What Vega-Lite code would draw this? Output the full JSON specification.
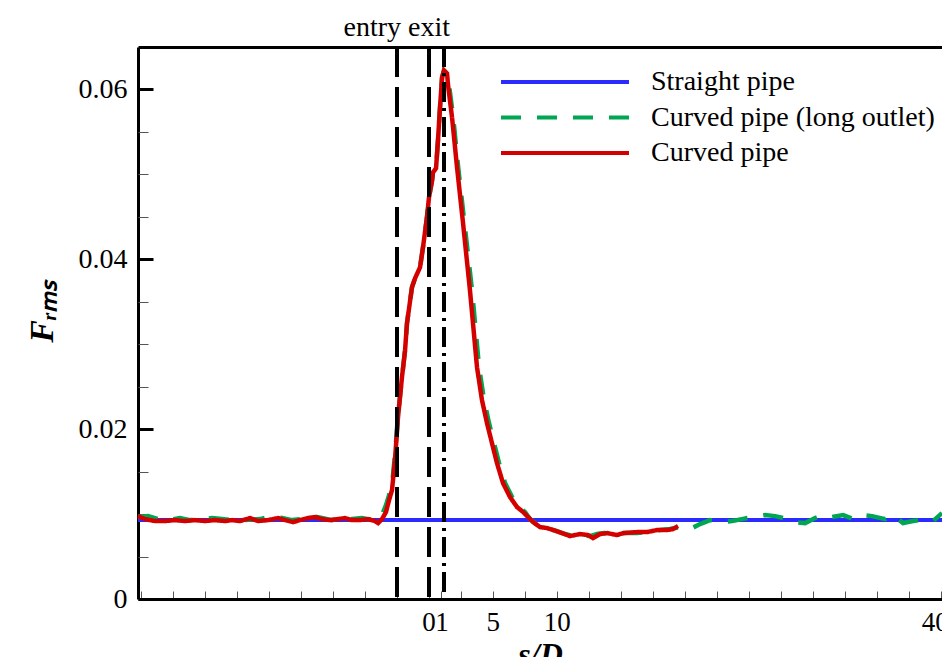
{
  "$schema": "https://vega.github.io/schema/vega-lite/v6.json",
  "width": 804,
  "height": 552,
  "autosize": {"type": "none"},
  "padding": {"left": 138, "top": 47, "right": 0, "bottom": 58},
  "background": "white",
  "config": {
    "view": {"stroke": null},
    "font": "Liberation Serif",
    "axis": {"grid": false, "labelColor": "black", "titleColor": "black", "labelFont": "Liberation Serif", "titleFont": "Liberation Serif", "domainColor": "black", "tickColor": "black"}
  },
  "data": {
    "values": [
      {"series": "Straight pipe", "s": -22.7, "F": 0.0093},
      {"series": "Straight pipe", "s": -10, "F": 0.0093},
      {"series": "Straight pipe", "s": 0, "F": 0.0093},
      {"series": "Straight pipe", "s": 10, "F": 0.0093},
      {"series": "Straight pipe", "s": 20, "F": 0.0093},
      {"series": "Straight pipe", "s": 30, "F": 0.0093},
      {"series": "Straight pipe", "s": 40.1, "F": 0.0093},

      {"series": "Curved pipe (long outlet)", "s": -22.7, "F": 0.00965},
      {"series": "Curved pipe (long outlet)", "s": -21.92, "F": 0.00976},
      {"series": "Curved pipe (long outlet)", "s": -21.14, "F": 0.00941},
      {"series": "Curved pipe (long outlet)", "s": -20.36, "F": 0.00929},
      {"series": "Curved pipe (long outlet)", "s": -19.42, "F": 0.00953},
      {"series": "Curved pipe (long outlet)", "s": -18.64, "F": 0.00929},
      {"series": "Curved pipe (long outlet)", "s": -17.86, "F": 0.00929},
      {"series": "Curved pipe (long outlet)", "s": -16.92, "F": 0.00953},
      {"series": "Curved pipe (long outlet)", "s": -16.14, "F": 0.00941},
      {"series": "Curved pipe (long outlet)", "s": -15.36, "F": 0.00929},
      {"series": "Curved pipe (long outlet)", "s": -14.34, "F": 0.00929},
      {"series": "Curved pipe (long outlet)", "s": -13.17, "F": 0.00941},
      {"series": "Curved pipe (long outlet)", "s": -12.23, "F": 0.00976},
      {"series": "Curved pipe (long outlet)", "s": -11.45, "F": 0.00953},
      {"series": "Curved pipe (long outlet)", "s": -10.67, "F": 0.00929},
      {"series": "Curved pipe (long outlet)", "s": -9.89, "F": 0.00941},
      {"series": "Curved pipe (long outlet)", "s": -9.11, "F": 0.00976},
      {"series": "Curved pipe (long outlet)", "s": -8.33, "F": 0.00953},
      {"series": "Curved pipe (long outlet)", "s": -7.55, "F": 0.00929},
      {"series": "Curved pipe (long outlet)", "s": -6.77, "F": 0.00953},
      {"series": "Curved pipe (long outlet)", "s": -5.98, "F": 0.00941},
      {"series": "Curved pipe (long outlet)", "s": -5.2, "F": 0.00953},
      {"series": "Curved pipe (long outlet)", "s": -4.42, "F": 0.00929},
      {"series": "Curved pipe (long outlet)", "s": -3.95, "F": 0.00941},
      {"series": "Curved pipe (long outlet)", "s": -3.64, "F": 0.00988},
      {"series": "Curved pipe (long outlet)", "s": -3.33, "F": 0.01106},
      {"series": "Curved pipe (long outlet)", "s": -3.09, "F": 0.01224},
      {"series": "Curved pipe (long outlet)", "s": -2.86, "F": 0.01341},
      {"series": "Curved pipe (long outlet)", "s": -2.63, "F": 0.01694},
      {"series": "Curved pipe (long outlet)", "s": -2.39, "F": 0.02165},
      {"series": "Curved pipe (long outlet)", "s": -2.08, "F": 0.02612},
      {"series": "Curved pipe (long outlet)", "s": -1.84, "F": 0.02929},
      {"series": "Curved pipe (long outlet)", "s": -1.69, "F": 0.03247},
      {"series": "Curved pipe (long outlet)", "s": -1.3, "F": 0.03671},
      {"series": "Curved pipe (long outlet)", "s": -1.06, "F": 0.03776},
      {"series": "Curved pipe (long outlet)", "s": -0.67, "F": 0.03906},
      {"series": "Curved pipe (long outlet)", "s": -0.44, "F": 0.04141},
      {"series": "Curved pipe (long outlet)", "s": -0.13, "F": 0.04494},
      {"series": "Curved pipe (long outlet)", "s": 0.03, "F": 0.04729},
      {"series": "Curved pipe (long outlet)", "s": 0.27, "F": 0.04929},
      {"series": "Curved pipe (long outlet)", "s": 0.34, "F": 0.05024},
      {"series": "Curved pipe (long outlet)", "s": 0.58, "F": 0.05071},
      {"series": "Curved pipe (long outlet)", "s": 0.73, "F": 0.054},
      {"series": "Curved pipe (long outlet)", "s": 0.89, "F": 0.05788},
      {"series": "Curved pipe (long outlet)", "s": 1.05, "F": 0.06141},
      {"series": "Curved pipe (long outlet)", "s": 1.2, "F": 0.06224},
      {"series": "Curved pipe (long outlet)", "s": 1.44, "F": 0.06188},
      {"series": "Curved pipe (long outlet)", "s": 1.6, "F": 0.06047},
      {"series": "Curved pipe (long outlet)", "s": 1.92, "F": 0.05671},
      {"series": "Curved pipe (long outlet)", "s": 2.31, "F": 0.05082},
      {"series": "Curved pipe (long outlet)", "s": 2.8, "F": 0.04424},
      {"series": "Curved pipe (long outlet)", "s": 3.39, "F": 0.03635},
      {"series": "Curved pipe (long outlet)", "s": 3.94, "F": 0.02729},
      {"series": "Curved pipe (long outlet)", "s": 4.33, "F": 0.02341},
      {"series": "Curved pipe (long outlet)", "s": 4.72, "F": 0.02071},
      {"series": "Curved pipe (long outlet)", "s": 5.11, "F": 0.01835},
      {"series": "Curved pipe (long outlet)", "s": 5.5, "F": 0.016},
      {"series": "Curved pipe (long outlet)", "s": 5.97, "F": 0.01365},
      {"series": "Curved pipe (long outlet)", "s": 6.52, "F": 0.012},
      {"series": "Curved pipe (long outlet)", "s": 7.06, "F": 0.01082},
      {"series": "Curved pipe (long outlet)", "s": 7.53, "F": 0.01024},
      {"series": "Curved pipe (long outlet)", "s": 7.92, "F": 0.00941},
      {"series": "Curved pipe (long outlet)", "s": 8.39, "F": 0.00882},
      {"series": "Curved pipe (long outlet)", "s": 8.94, "F": 0.00847},
      {"series": "Curved pipe (long outlet)", "s": 9.48, "F": 0.00824},
      {"series": "Curved pipe (long outlet)", "s": 10.03, "F": 0.008},
      {"series": "Curved pipe (long outlet)", "s": 10.66, "F": 0.00765},
      {"series": "Curved pipe (long outlet)", "s": 11.28, "F": 0.00741},
      {"series": "Curved pipe (long outlet)", "s": 11.98, "F": 0.00753},
      {"series": "Curved pipe (long outlet)", "s": 12.61, "F": 0.00741},
      {"series": "Curved pipe (long outlet)", "s": 13.16, "F": 0.00765},
      {"series": "Curved pipe (long outlet)", "s": 13.72, "F": 0.00776},
      {"series": "Curved pipe (long outlet)", "s": 14.5, "F": 0.00765},
      {"series": "Curved pipe (long outlet)", "s": 15.28, "F": 0.00776},
      {"series": "Curved pipe (long outlet)", "s": 16.28, "F": 0.00776},
      {"series": "Curved pipe (long outlet)", "s": 17.14, "F": 0.00788},
      {"series": "Curved pipe (long outlet)", "s": 18.08, "F": 0.00812},
      {"series": "Curved pipe (long outlet)", "s": 18.86, "F": 0.00824},
      {"series": "Curved pipe (long outlet)", "s": 19.64, "F": 0.00847},
      {"series": "Curved pipe (long outlet)", "s": 20.58, "F": 0.00835},
      {"series": "Curved pipe (long outlet)", "s": 21.2, "F": 0.00882},
      {"series": "Curved pipe (long outlet)", "s": 21.98, "F": 0.00929},
      {"series": "Curved pipe (long outlet)", "s": 23.0, "F": 0.00906},
      {"series": "Curved pipe (long outlet)", "s": 23.7, "F": 0.00918},
      {"series": "Curved pipe (long outlet)", "s": 24.48, "F": 0.00941},
      {"series": "Curved pipe (long outlet)", "s": 25.27, "F": 0.00965},
      {"series": "Curved pipe (long outlet)", "s": 26.28, "F": 0.00988},
      {"series": "Curved pipe (long outlet)", "s": 27.06, "F": 0.00976},
      {"series": "Curved pipe (long outlet)", "s": 27.69, "F": 0.00953},
      {"series": "Curved pipe (long outlet)", "s": 28.62, "F": 0.00906},
      {"series": "Curved pipe (long outlet)", "s": 29.41, "F": 0.00894},
      {"series": "Curved pipe (long outlet)", "s": 30.19, "F": 0.00953},
      {"series": "Curved pipe (long outlet)", "s": 30.73, "F": 0.00988},
      {"series": "Curved pipe (long outlet)", "s": 31.52, "F": 0.00965},
      {"series": "Curved pipe (long outlet)", "s": 32.38, "F": 0.00988},
      {"series": "Curved pipe (long outlet)", "s": 33.16, "F": 0.00941},
      {"series": "Curved pipe (long outlet)", "s": 33.86, "F": 0.00988},
      {"series": "Curved pipe (long outlet)", "s": 34.64, "F": 0.00976},
      {"series": "Curved pipe (long outlet)", "s": 35.66, "F": 0.00941},
      {"series": "Curved pipe (long outlet)", "s": 36.28, "F": 0.00988},
      {"series": "Curved pipe (long outlet)", "s": 37.06, "F": 0.00894},
      {"series": "Curved pipe (long outlet)", "s": 37.84, "F": 0.00918},
      {"series": "Curved pipe (long outlet)", "s": 38.78, "F": 0.00941},
      {"series": "Curved pipe (long outlet)", "s": 39.41, "F": 0.00918},
      {"series": "Curved pipe (long outlet)", "s": 40.1, "F": 0.01012},

      {"series": "Curved pipe", "s": -22.7, "F": 0.00976},
      {"series": "Curved pipe", "s": -22.16, "F": 0.00941},
      {"series": "Curved pipe", "s": -21.38, "F": 0.00918},
      {"series": "Curved pipe", "s": -20.59, "F": 0.00918},
      {"series": "Curved pipe", "s": -19.81, "F": 0.00929},
      {"series": "Curved pipe", "s": -19.03, "F": 0.00918},
      {"series": "Curved pipe", "s": -18.25, "F": 0.00929},
      {"series": "Curved pipe", "s": -17.47, "F": 0.00918},
      {"series": "Curved pipe", "s": -16.69, "F": 0.00929},
      {"series": "Curved pipe", "s": -15.91, "F": 0.00918},
      {"series": "Curved pipe", "s": -15.36, "F": 0.00929},
      {"series": "Curved pipe", "s": -14.73, "F": 0.00918},
      {"series": "Curved pipe", "s": -13.95, "F": 0.00953},
      {"series": "Curved pipe", "s": -13.33, "F": 0.00918},
      {"series": "Curved pipe", "s": -12.55, "F": 0.00929},
      {"series": "Curved pipe", "s": -11.77, "F": 0.00953},
      {"series": "Curved pipe", "s": -11.22, "F": 0.00929},
      {"series": "Curved pipe", "s": -10.59, "F": 0.00906},
      {"series": "Curved pipe", "s": -10.05, "F": 0.00929},
      {"series": "Curved pipe", "s": -9.42, "F": 0.00953},
      {"series": "Curved pipe", "s": -8.88, "F": 0.00965},
      {"series": "Curved pipe", "s": -8.33, "F": 0.00941},
      {"series": "Curved pipe", "s": -7.7, "F": 0.00929},
      {"series": "Curved pipe", "s": -7.08, "F": 0.00941},
      {"series": "Curved pipe", "s": -6.53, "F": 0.00953},
      {"series": "Curved pipe", "s": -5.98, "F": 0.00929},
      {"series": "Curved pipe", "s": -5.36, "F": 0.00929},
      {"series": "Curved pipe", "s": -4.73, "F": 0.00941},
      {"series": "Curved pipe", "s": -4.19, "F": 0.00918},
      {"series": "Curved pipe", "s": -3.95, "F": 0.00894},
      {"series": "Curved pipe", "s": -3.64, "F": 0.00941},
      {"series": "Curved pipe", "s": -3.33, "F": 0.01024},
      {"series": "Curved pipe", "s": -3.09, "F": 0.01165},
      {"series": "Curved pipe", "s": -2.86, "F": 0.01282},
      {"series": "Curved pipe", "s": -2.63, "F": 0.01635},
      {"series": "Curved pipe", "s": -2.39, "F": 0.02141},
      {"series": "Curved pipe", "s": -2.08, "F": 0.02612},
      {"series": "Curved pipe", "s": -1.84, "F": 0.02929},
      {"series": "Curved pipe", "s": -1.69, "F": 0.03247},
      {"series": "Curved pipe", "s": -1.3, "F": 0.03671},
      {"series": "Curved pipe", "s": -1.06, "F": 0.03776},
      {"series": "Curved pipe", "s": -0.67, "F": 0.03906},
      {"series": "Curved pipe", "s": -0.44, "F": 0.04141},
      {"series": "Curved pipe", "s": -0.13, "F": 0.04494},
      {"series": "Curved pipe", "s": 0.03, "F": 0.04729},
      {"series": "Curved pipe", "s": 0.27, "F": 0.04929},
      {"series": "Curved pipe", "s": 0.34, "F": 0.05024},
      {"series": "Curved pipe", "s": 0.58, "F": 0.05071},
      {"series": "Curved pipe", "s": 0.73, "F": 0.054},
      {"series": "Curved pipe", "s": 0.89, "F": 0.05788},
      {"series": "Curved pipe", "s": 1.05, "F": 0.06141},
      {"series": "Curved pipe", "s": 1.2, "F": 0.06224},
      {"series": "Curved pipe", "s": 1.44, "F": 0.06188},
      {"series": "Curved pipe", "s": 1.52, "F": 0.06047},
      {"series": "Curved pipe", "s": 1.83, "F": 0.05671},
      {"series": "Curved pipe", "s": 2.22, "F": 0.05082},
      {"series": "Curved pipe", "s": 2.69, "F": 0.04424},
      {"series": "Curved pipe", "s": 3.23, "F": 0.03635},
      {"series": "Curved pipe", "s": 3.78, "F": 0.02729},
      {"series": "Curved pipe", "s": 4.17, "F": 0.02341},
      {"series": "Curved pipe", "s": 4.56, "F": 0.02071},
      {"series": "Curved pipe", "s": 4.95, "F": 0.01835},
      {"series": "Curved pipe", "s": 5.34, "F": 0.016},
      {"series": "Curved pipe", "s": 5.81, "F": 0.01365},
      {"series": "Curved pipe", "s": 6.36, "F": 0.012},
      {"series": "Curved pipe", "s": 6.91, "F": 0.01082},
      {"series": "Curved pipe", "s": 7.38, "F": 0.01024},
      {"series": "Curved pipe", "s": 7.77, "F": 0.00965},
      {"series": "Curved pipe", "s": 8.16, "F": 0.00906},
      {"series": "Curved pipe", "s": 8.7, "F": 0.00847},
      {"series": "Curved pipe", "s": 9.25, "F": 0.00835},
      {"series": "Curved pipe", "s": 9.73, "F": 0.00812},
      {"series": "Curved pipe", "s": 10.42, "F": 0.00776},
      {"series": "Curved pipe", "s": 11.05, "F": 0.00741},
      {"series": "Curved pipe", "s": 11.83, "F": 0.00765},
      {"series": "Curved pipe", "s": 12.45, "F": 0.00753},
      {"series": "Curved pipe", "s": 12.84, "F": 0.00718},
      {"series": "Curved pipe", "s": 13.39, "F": 0.00765},
      {"series": "Curved pipe", "s": 13.94, "F": 0.00776},
      {"series": "Curved pipe", "s": 14.72, "F": 0.00753},
      {"series": "Curved pipe", "s": 15.19, "F": 0.00776},
      {"series": "Curved pipe", "s": 16.28, "F": 0.00788},
      {"series": "Curved pipe", "s": 17.06, "F": 0.00788},
      {"series": "Curved pipe", "s": 17.84, "F": 0.00812},
      {"series": "Curved pipe", "s": 18.63, "F": 0.00812},
      {"series": "Curved pipe", "s": 19.09, "F": 0.00824},
      {"series": "Curved pipe", "s": 19.48, "F": 0.00859}
    ]
  },
  "layer": [
    {
      "transform": [{"filter": "datum.series === 'Straight pipe'"}],
      "mark": {"type": "line", "strokeWidth": 4},
      "encoding": {
        "x": {
          "field": "s", "type": "quantitative",
          "scale": {"domain": [-22.7, 40.1], "nice": false, "zero": false},
          "axis": {
            "orient": "bottom",
            "values": [-22.5, -20, -17.5, -15, -12.5, -10, -7.5, -5, -2.5, 0, 1, 2.5, 5, 7.5, 10, 12.5, 15, 17.5, 20, 22.5, 25, 27.5, 30, 32.5, 35, 37.5, 40],
            "labelExpr": "indexof([0, 1, 5, 10, 40], datum.value) >= 0 ? '' + datum.value : ''",
            "labelOffset": {"condition": {"test": "datum.value > 30", "value": -6}, "value": 0},
            "labelOverlap": false, "labelFlush": false,
            "tickSize": -8, "tickWidth": 1, "tickColor": "#555",
            "domainWidth": 3,
            "labelFontSize": 27, "labelPadding": 18,
            "title": "s/D", "titleFontSize": 32, "titleFontStyle": "italic", "titleFontWeight": "bold", "titlePadding": 4
          }
        },
        "y": {
          "field": "F", "type": "quantitative",
          "scale": {"domain": [0, 0.065], "nice": false},
          "axis": {
            "orient": "left",
            "values": [0, 0.02, 0.04, 0.06],
            "labelExpr": "datum.value === 0 ? '0' : format(datum.value, '.2f')",
            "tickSize": -15, "tickWidth": 3,
            "domainWidth": 3,
            "labelFontSize": 28, "labelPadding": 26,
            "title": "Fᵣₘₛ", "titleFontSize": 34, "titleFontStyle": "italic", "titleFontWeight": "bold",
            "titleX": -96, "titleY": 264, "titleAlign": "center", "titleBaseline": "middle", "titleAngle": -90
          }
        },
        "color": {
          "field": "series", "type": "nominal",
          "scale": {"domain": ["Straight pipe", "Curved pipe (long outlet)", "Curved pipe"], "range": ["#2b2bff", "#00a651", "#d40000"]},
          "legend": {
            "title": null, "orient": "none", "legendX": 409, "legendY": 17, "padding": 0,
            "symbolType": "M-4,0H4", "symbolSize": 1024, "symbolStrokeWidth": 4,
            "labelFontSize": 28, "labelFont": "Liberation Serif", "labelColor": "black", "labelOffset": 68, "labelLimit": 500,
            "rowPadding": 3.5
          }
        },
        "strokeDash": {
          "field": "series", "type": "nominal",
          "scale": {"domain": ["Straight pipe", "Curved pipe (long outlet)", "Curved pipe"], "range": [[1, 0], [20, 16], [1, 0]]},
          "legend": {
            "title": null, "orient": "none", "legendX": 409, "legendY": 17, "padding": 0,
            "symbolType": "M-4,0H4", "symbolSize": 1024, "symbolStrokeWidth": 4,
            "labelFontSize": 28, "labelFont": "Liberation Serif", "labelColor": "black", "labelOffset": 68, "labelLimit": 500,
            "rowPadding": 3.5
          }
        }
      }
    },
    {
      "transform": [{"filter": "datum.series === 'Curved pipe (long outlet)'"}],
      "mark": {"type": "line", "strokeWidth": 4.5},
      "encoding": {
        "x": {
          "field": "s", "type": "quantitative",
          "scale": {"domain": [-22.7, 40.1], "nice": false, "zero": false},
          "axis": {
            "orient": "top", "values": [-2.5, 0],
            "labelExpr": "datum.value < -1 ? 'entry' : 'exit'",
            "labelAlign": {"condition": {"test": "datum.value < -1", "value": "right"}, "value": "center"},
            "labelOffset": {"condition": {"test": "datum.value < -1", "value": 4}, "value": 0},
            "labelOverlap": false, "labelFlush": false,
            "ticks": false, "domainWidth": 3, "labelFontSize": 28, "labelPadding": 6, "title": null
          }
        },
        "y": {
          "field": "F", "type": "quantitative",
          "scale": {"domain": [0, 0.065], "nice": false},
          "axis": {
            "orient": "left",
            "values": [0.005, 0.01, 0.015, 0.025, 0.03, 0.035, 0.045, 0.05, 0.055],
            "labels": false, "domain": false, "tickSize": -10, "tickWidth": 1, "tickColor": "#555", "title": null
          }
        },
        "color": {"field": "series", "type": "nominal"},
        "strokeDash": {"field": "series", "type": "nominal"}
      }
    },
    {
      "transform": [{"filter": "datum.series === 'Curved pipe'"}],
      "mark": {"type": "line", "strokeWidth": 4.5},
      "encoding": {
        "x": {"field": "s", "type": "quantitative", "scale": {"domain": [-22.7, 40.1], "nice": false, "zero": false}, "axis": null},
        "y": {"field": "F", "type": "quantitative", "scale": {"domain": [0, 0.065], "nice": false}, "axis": null},
        "color": {"field": "series", "type": "nominal"},
        "strokeDash": {"field": "series", "type": "nominal"}
      }
    },
    {
      "mark": {"type": "rule", "color": "black", "strokeWidth": 3, "strokeDash": [30, 10]},
      "encoding": {"x": {"datum": -2.5, "type": "quantitative", "axis": null}}
    },
    {
      "mark": {"type": "rule", "color": "black", "strokeWidth": 3, "strokeDash": [30, 10]},
      "encoding": {"x": {"datum": 0, "type": "quantitative", "axis": null}}
    },
    {
      "mark": {"type": "rule", "color": "black", "strokeWidth": 3, "strokeDash": [20, 6, 3, 6]},
      "encoding": {"x": {"datum": 1.2, "type": "quantitative", "axis": null}}
    }
  ],
  "resolve": {"axis": {"x": "independent", "y": "independent"}}
}
